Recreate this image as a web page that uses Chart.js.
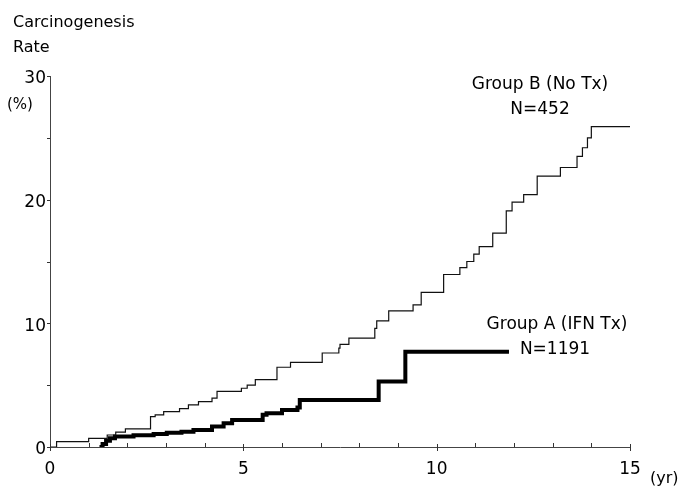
<!DOCTYPE html>
<html><head><meta charset="utf-8">
<script src="https://cdn.jsdelivr.net/npm/chart.js@4.4.0/dist/chart.umd.min.js"></script>
<style>html,body{margin:0;padding:0;background:#fff;}#wrap{width:682px;height:487px;position:relative;}</style>
</head><body><div id="wrap"><canvas id="c" width="682" height="487"></canvas></div>
<script>
// Group B (No Tx), N=452 : cumulative carcinogenesis rate (%) by year
const groupBYears = [0, 0.17, 1.0, 1.48, 1.7, 1.95, 2.6, 2.72, 2.94, 3.35, 3.58, 3.84, 4.19, 4.32, 4.95, 5.1, 5.31, 5.87, 6.22, 7.04, 7.47, 7.5, 7.73, 8.4, 8.45, 8.76, 9.39, 9.6, 10.18, 10.6, 10.78, 10.96, 11.1, 11.45, 11.8, 11.95, 12.25, 12.6, 13.2, 13.63, 13.77, 13.9, 14.0, 15.0];
const groupBRates = [0, 0.43, 0.7, 0.97, 1.2, 1.46, 2.46, 2.6, 2.86, 3.1, 3.4, 3.67, 3.95, 4.49, 4.75, 5.0, 5.45, 6.45, 6.85, 7.6, 8.0, 8.3, 8.8, 9.6, 10.2, 11.0, 11.5, 12.5, 13.95, 14.5, 15.0, 15.6, 16.2, 17.3, 19.1, 19.8, 20.4, 21.9, 22.6, 23.5, 24.2, 25.0, 25.9, 25.9];
// Group A (IFN Tx), N=1191
const groupAYears = [1.28, 1.36, 1.45, 1.55, 1.68, 2.16, 2.68, 3.02, 3.4, 3.71, 4.19, 4.49, 4.71, 5.5, 5.6, 6.0, 6.4, 6.46, 8.5, 9.19, 11.87];
const groupARates = [0, 0.25, 0.5, 0.7, 0.84, 0.95, 1.05, 1.15, 1.24, 1.38, 1.65, 1.92, 2.19, 2.6, 2.73, 3.0, 3.2, 3.81, 5.3, 7.7, 7.7];
const xTickLabels = [0, 5, 10, 15];
const yTickLabels = [0, 10, 20, 30];
const xMinorTicks = [0,1,2,3,4,5,6,7,8,9,10,11,12,13,14,15];
const yMinorTicks = [0,5,10,15,20,25,30];

const FONT = "'DejaVu Sans', sans-serif";

const decor = {
  id: 'decor',
  afterDraw(chart) {
    const {ctx, scales: {x, y}, chartArea: a} = chart;
    ctx.save();
    ctx.strokeStyle = '#333';
    ctx.lineWidth = 1;
    ctx.beginPath();
    xMinorTicks.forEach(v => {
      const px = Math.round(x.getPixelForValue(v)) + 0.5;
      if (v % 5 === 0) { ctx.moveTo(px, a.bottom - 3); ctx.lineTo(px, a.bottom + 4); }
      else { ctx.moveTo(px, a.bottom); ctx.lineTo(px, a.bottom - 4); }
    });
    yMinorTicks.forEach(v => {
      const py = Math.round(y.getPixelForValue(v)) + 0.5;
      ctx.moveTo(a.left - 3, py); ctx.lineTo(a.left, py);
    });
    ctx.stroke();

    ctx.fillStyle = '#000';
    ctx.textBaseline = 'middle';
    const texts = [
      {t: 'Carcinogenesis', px: 13, py: 23, align: 'left', size: 16},
      {t: 'Rate', px: 13, py: 48, align: 'left', size: 16},
      {t: '(%)', px: 7, py: 105, align: 'left', size: 15},
      {t: '(yr)', px: 650, py: 479, align: 'left', size: 16},
      {t: 'Group B (No Tx)', px: 540, py: 85, align: 'center', size: 17},
      {t: 'N=452', px: 540, py: 110, align: 'center', size: 17},
      {t: 'Group A (IFN Tx)', px: 557, py: 325, align: 'center', size: 17},
      {t: 'N=1191', px: 555, py: 350, align: 'center', size: 17}
    ];
    texts.forEach(o => {
      ctx.font = o.size + 'px ' + FONT;
      ctx.textAlign = o.align;
      ctx.fillText(o.t, o.px, o.py);
    });
    ctx.restore();
  }
};

new Chart(document.getElementById('c'), {
  type: 'line',
  data: {
    datasets: [
      {
        label: 'Group B (No Tx)',
        data: groupBYears.map((t, i) => ({x: t, y: groupBRates[i]})),
        stepped: true,
        borderColor: '#111',
        borderWidth: 1.2,
        pointRadius: 0,
        fill: false
      },
      {
        label: 'Group A (IFN Tx)',
        data: groupAYears.map((t, i) => ({x: t, y: groupARates[i]})),
        stepped: true,
        borderColor: '#000',
        borderWidth: 4,
        borderJoinStyle: 'miter',
        borderCapStyle: 'butt',
        pointRadius: 0,
        fill: false
      }
    ]
  },
  options: {
    responsive: false,
    animation: false,
    devicePixelRatio: 1,
    layout: {padding: {left: 0, top: 76, right: 52, bottom: 0}},
    plugins: {legend: {display: false}, tooltip: {enabled: false}},
    scales: {
      x: {
        type: 'linear', min: 0, max: 15,
        afterFit(s) { s.height = 40; },
        afterBuildTicks(s) { s.ticks = xTickLabels.map(v => ({value: v})); },
        grid: {display: false, drawTicks: false},
        border: {display: true, color: '#444', width: 1},
        ticks: {padding: 12, color: '#000', font: {family: FONT, size: 17}, maxRotation: 0, autoSkip: false}
      },
      y: {
        type: 'linear', min: 0, max: 30,
        afterFit(s) { s.width = 50; },
        afterBuildTicks(s) { s.ticks = yTickLabels.map(v => ({value: v})); },
        grid: {display: false, drawTicks: false},
        border: {display: true, color: '#444', width: 1},
        ticks: {padding: 4, labelOffset: 3, color: '#000', font: {family: FONT, size: 17}}
      }
    }
  },
  plugins: [decor]
});
</script>
</body></html>
